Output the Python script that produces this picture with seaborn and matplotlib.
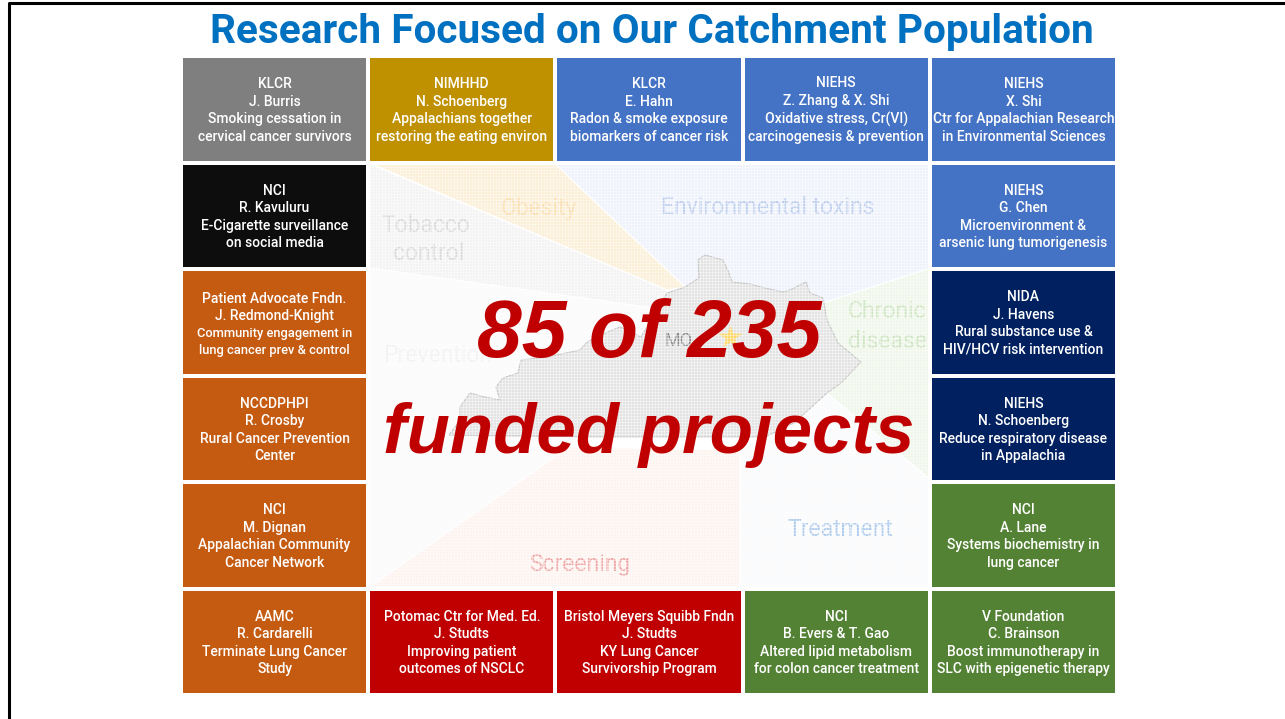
import numpy as np
import matplotlib
matplotlib.use("Agg")
import matplotlib.pyplot as plt
from matplotlib.colors import ListedColormap
from matplotlib.lines import Line2D
from matplotlib.patches import Polygon
import seaborn as sns

title = "Research Focused on Our Catchment Population"
headline = ["85 of 235", "funded projects"]

palette = ["#7f7f7f", "#bf9000", "#4472c4", "#0d0d0d", "#c55a11", "#002060", "#548235", "#c00000"]
box_colors = [
    [0, 1, 2, 2, 2],
    [3, np.nan, np.nan, np.nan, 2],
    [4, np.nan, np.nan, np.nan, 5],
    [4, np.nan, np.nan, np.nan, 5],
    [4, np.nan, np.nan, np.nan, 6],
    [4, 7, 7, 6, 6],
]
box_labels = [
    ["KLCR\nJ. Burris\nSmoking cessation in\ncervical cancer survivors",
     "NIMHHD\nN. Schoenberg\nAppalachians together\nrestoring the eating environ",
     "KLCR\nE. Hahn\nRadon & smoke exposure\nbiomarkers of cancer risk",
     "NIEHS\nZ. Zhang & X. Shi\nOxidative stress, Cr(VI)\ncarcinogenesis & prevention",
     "NIEHS\nX. Shi\nCtr for Appalachian Research\nin Environmental Sciences"],
    ["NCI\nR. Kavuluru\nE-Cigarette surveillance\non social media", "", "", "",
     "NIEHS\nG. Chen\nMicroenvironment &\narsenic lung tumorigenesis"],
    ["Patient Advocate Fndn.\nJ. Redmond-Knight", "", "", "",
     "NIDA\nJ. Havens\nRural substance use &\nHIV/HCV risk intervention"],
    ["NCCDPHPI\nR. Crosby\nRural Cancer Prevention\nCenter", "", "", "",
     "NIEHS\nN. Schoenberg\nReduce respiratory disease\nin Appalachia"],
    ["NCI\nM. Dignan\nAppalachian Community\nCancer Network", "", "", "",
     "NCI\nA. Lane\nSystems biochemistry in\nlung cancer"],
    ["AAMC\nR. Cardarelli\nTerminate Lung Cancer\nStudy",
     "Potomac Ctr for Med. Ed.\nJ. Studts\nImproving patient\noutcomes of NSCLC",
     "Bristol Meyers Squibb Fndn\nJ. Studts\nKY Lung Cancer\nSurvivorship Program",
     "NCI\nB. Evers & T. Gao\nAltered lipid metabolism\nfor colon cancer treatment",
     "V Foundation\nC. Brainson\nBoost immunotherapy in\nSLC with epigenetic therapy"],
]
small_label = "Community engagement in\nlung cancer prev & control"

# faint backdrop behind the headline, in slide pixels
wedges = {
    "#eef2fa": [(555, 164), (931, 164), (931, 268), (823, 303), (685, 287)],
    "#fbefd6": [(372, 164), (555, 164), (685, 287), (667, 290)],
    "#f3f3f3": [(370, 164), (667, 290), (667, 310), (370, 268)],
    "#fbfbfb": [(370, 268), (667, 310), (569, 447), (370, 587)],
    "#eff6ea": [(931, 268), (931, 480), (827, 393), (823, 303)],
    "#fafbfd": [(740, 587), (931, 587), (931, 480), (827, 393), (740, 450)],
    "#fdf3ef": [(370, 587), (740, 587), (740, 450), (569, 447)],
}
kentucky_x = [698, 705, 723, 729, 732, 750, 765, 783, 790, 806, 810, 823, 827, 838,
              861, 841, 827, 794, 765, 700, 600, 449, 460, 460, 470, 485, 500, 496,
              503, 518, 521, 547, 580, 587, 605, 620, 641, 667, 685, 699]
kentucky_y = [260, 255, 260, 273, 282, 284, 288, 292, 290, 282, 293, 298, 320, 343,
              362, 383, 393, 423, 437, 437, 437, 435, 420, 407, 393, 397, 400, 387,
              378, 373, 360, 357, 350, 342, 333, 327, 337, 293, 287, 278]
topic_names = ["Tobacco", "control", "Obesity", "Environmental toxins", "Chronic", "disease",
               "Prevention", "Treatment", "Screening"]
topic_x = [426, 429, 539, 768, 887, 887, 438, 840, 580]
topic_y = [225, 254, 208, 208, 312, 341, 355, 529, 564]
topic_colors = ["#d9d9d9", "#d9d9d9", "#f8deb0", "#bccdee", "#cce5c0", "#cce5c0",
                "#f1f1f1", "#aecbec", "#eea6a6"]

sns.set_theme(style="white")
plt.rcParams["font.family"] = ["Roboto", "DejaVu Sans"]

fig = plt.figure(figsize=(12.85, 7.19), dpi=100)
W, H = 1285, 719

bg = fig.add_axes([0, 0, 1, 1])
bg.set_xlim(0, W)
bg.set_ylim(H, 0)
bg.axis("off")

for color, pts in wedges.items():
    bg.add_patch(Polygon(pts, closed=True, fc=color, ec="white", lw=0.8, zorder=1))
bg.add_patch(Polygon(list(zip(kentucky_x, kentucky_y)), closed=True, fc="#e3e3e3", ec="#c4c4c4", lw=0.8, zorder=2))
bg.scatter([730], [337], marker="*", s=330, color="#fdd768", lw=0, zorder=3)
bg.text(665, 341, "MO", fontsize=13, color="#8a8a8a", va="center", zorder=3)
for name, x, y, c in zip(topic_names, topic_x, topic_y, topic_colors):
    bg.text(x, y, name, color=c, fontsize=16.5, ha="center", va="center", zorder=3)

# dither texture of the pasted image
grid_x = np.arange(370, 931, 3)
grid_y = np.arange(164, 587, 3)
bg.vlines(grid_x, 164, 587, color="white", lw=0.55, alpha=0.55, zorder=4)
bg.hlines(grid_y, 370, 931, color="white", lw=0.55, alpha=0.55, zorder=4)

bg.add_line(Line2D([9, 9, W], [H, 3, 3], color="black", lw=2.2, zorder=5))
bg.text(652, 32, title, color="#0070c0", fontsize=29.2, fontweight="bold", ha="center", va="center")

for line, y, size in zip(headline, [357, 453], [58, 51]):
    bg.text(649, y, line, color="#c00000", fontsize=size, fontweight="bold", style="italic",
            family="Liberation Sans", ha="center", va="baseline", zorder=6)

ax = fig.add_axes([181 / W, 1 - 695 / H, 936 / W, 639 / H])
ax.patch.set_alpha(0)
sns.heatmap(np.array(box_colors), ax=ax, cmap=ListedColormap(palette), vmin=-0.5, vmax=7.5, cbar=False,
            annot=np.array(box_labels), fmt="", linewidths=1.5, linecolor="white",
            xticklabels=False, yticklabels=False,
            annot_kws={"color": "white", "fontsize": 10, "fontweight": "medium", "linespacing": 1.32})

# keep the white gaps off the empty middle cells
mesh = ax.collections[0]
edges = np.tile([1.0, 1.0, 1.0, 1.0], (30, 1))
edges[np.isnan(np.array(box_colors)).ravel(), 3] = 0
mesh.set_edgecolor(edges)

for t in list(ax.texts):
    t.set_y(t.get_position()[1] + 0.01)
    if t.get_text().startswith("Patient"):
        t.set_y(t.get_position()[1] - 0.147)
        ax.text(t.get_position()[0], 2.685, small_label, color="white", fontsize=9.3, fontweight="medium",
                ha="center", va="center", linespacing=1.38)

fig.savefig("out.png", dpi=100, facecolor="white")
